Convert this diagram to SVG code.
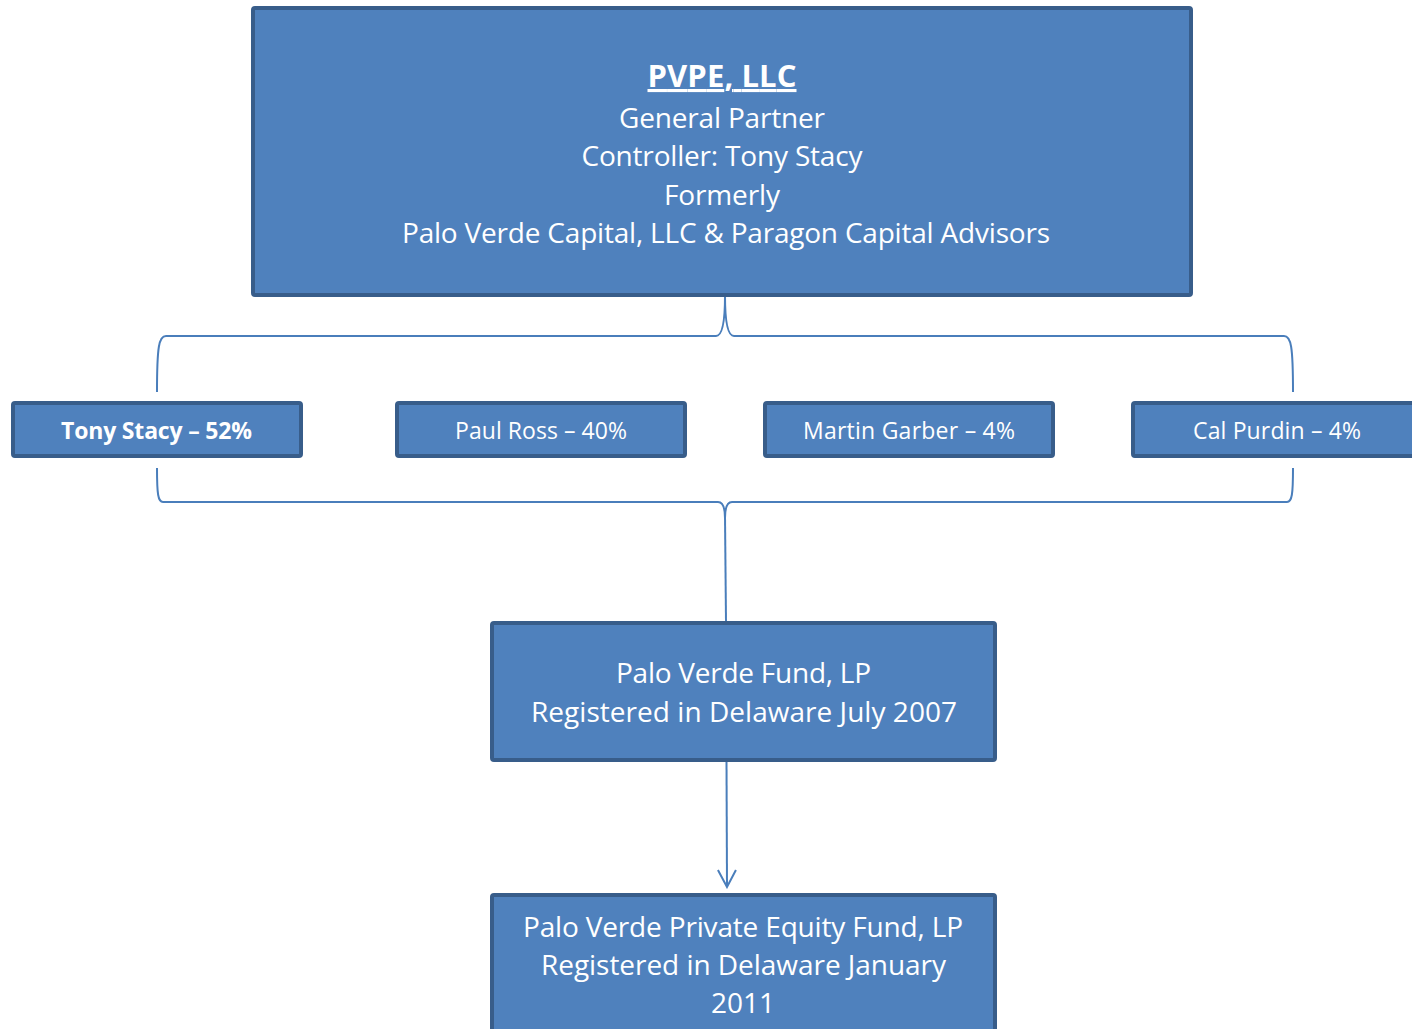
<svg xmlns="http://www.w3.org/2000/svg" width="1412" height="1029" viewBox="0 0 1412 1029">
<style>
.box{fill:#4F81BD;stroke:#385D8A;stroke-width:4}
.t{font-family:"Open Sans","Noto Sans","Liberation Sans",sans-serif;fill:#FFFFFF;text-anchor:middle}
.big{font-size:28px}
.sm{font-size:23px}
.b{font-weight:bold}
.con{fill:none;stroke:#4A7EBB;stroke-width:2}
</style>
<defs>
<marker id="arr" viewBox="0 0 20 20" refX="18" refY="10" markerWidth="20" markerHeight="20" markerUnits="userSpaceOnUse" orient="auto">
<path d="M1,1 L18,10 L1,19" fill="none" stroke="#4A7EBB" stroke-width="2"/>
</marker>
</defs>
<g id="connectors">
<path class="con" d="M157,392 C157,346 159,336 166,336 L716,336 C722,336 725,322 725,296 C725,322 728,336 734,336 L1284,336 C1291,336 1293,346 1293,392"/>
<path class="con" d="M157,468 C157,494 158,502 163,502 L718,502 C722,502 725,506 725,518 C725,506 728,502 732,502 L1287,502 C1292,502 1293,494 1293,468"/>
<path class="con" d="M725,516 L726,622"/>
<path class="con" d="M726.5,762 L727,887" marker-end="url(#arr)"/>
</g>
<g id="pvpe">
<rect class="box" x="253" y="8" width="938" height="287" rx="2"/>
<text class="t b" x="722" y="87" font-size="31" text-decoration="underline" textLength="149">PVPE, LLC</text>
<text class="t big" x="722" y="128" textLength="206">General Partner</text>
<text class="t big" x="722" y="166" textLength="281">Controller: Tony Stacy</text>
<text class="t big" x="722" y="205" textLength="116">Formerly</text>
<text class="t big" x="726" y="243" textLength="648">Palo Verde Capital, LLC &amp; Paragon Capital Advisors</text>
</g>
<g id="tony">
<rect class="box" x="13" y="403" width="288" height="53" rx="2"/>
<text class="t sm b" x="156.5" y="439" textLength="191">Tony Stacy – 52%</text>
</g>
<g id="paul">
<rect class="box" x="397" y="403" width="288" height="53" rx="2"/>
<text class="t sm" x="541" y="439" textLength="172">Paul Ross – 40%</text>
</g>
<g id="martin">
<rect class="box" x="765" y="403" width="288" height="53" rx="2"/>
<text class="t sm" x="909" y="439" textLength="212">Martin Garber – 4%</text>
</g>
<g id="cal">
<rect class="box" x="1133" y="403" width="288" height="53" rx="2"/>
<text class="t sm" x="1277" y="439" textLength="168">Cal Purdin – 4%</text>
</g>
<g id="fund">
<rect class="box" x="492" y="623" width="503" height="137" rx="2"/>
<text class="t big" x="743.5" y="683" textLength="255">Palo Verde Fund, LP</text>
<text class="t big" x="744" y="722" textLength="426">Registered in Delaware July 2007</text>
</g>
<g id="pefund">
<rect class="box" x="492" y="895" width="503" height="140" rx="2"/>
<text class="t big" x="743" y="937" textLength="440">Palo Verde Private Equity Fund, LP</text>
<text class="t big" x="743.5" y="975" textLength="405">Registered in Delaware January</text>
<text class="t big" x="743" y="1013" textLength="64">2011</text>
</g>
</svg>
